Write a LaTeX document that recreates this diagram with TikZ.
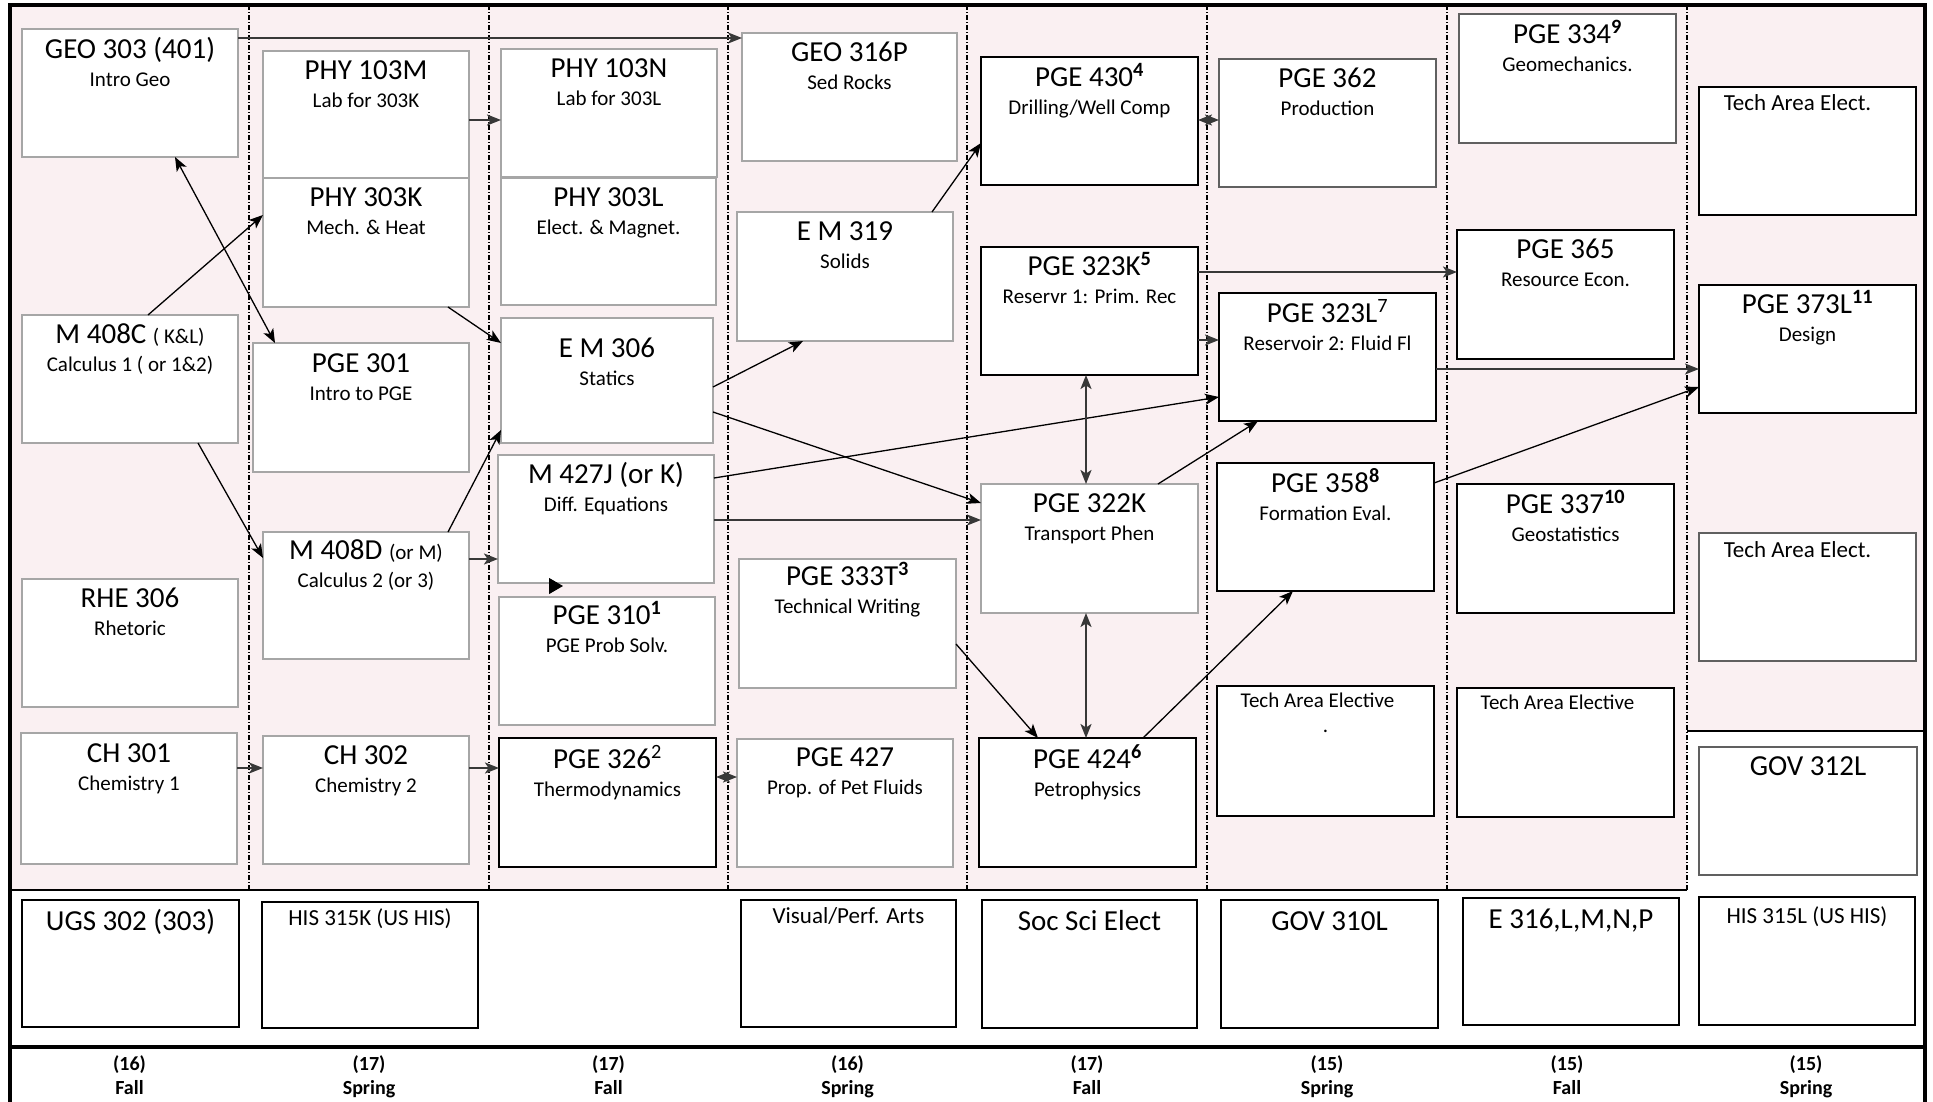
\documentclass[tikz,border=0pt]{standalone}
\usepackage{fontspec}
\setmainfont{Carlito}
\usetikzlibrary{arrows.meta}
\definecolor{pinkbg}{RGB}{250,240,242}
\definecolor{boxgray}{RGB}{166,166,166}
\definecolor{boxdark}{RGB}{96,96,96}
\definecolor{lnk}{RGB}{56,56,56}
\tikzset{
 gbox/.style={draw=boxgray, line width=1.5pt, fill=white, inner sep=0pt, outer sep=0pt},
 kbox/.style={draw=black, line width=2.5pt, fill=white, inner sep=0pt, outer sep=0pt},
 dbox/.style={draw=boxdark, line width=2.2pt, fill=white, inner sep=0pt, outer sep=0pt},
 ttl/.style={anchor=base, inner sep=0pt, font=\fontsize{29}{32}\selectfont},
 sub/.style={anchor=base, inner sep=0pt, font=\fontsize{21}{24}\selectfont},
 mid/.style={anchor=base, inner sep=0pt, font=\fontsize{23}{26}\selectfont},
 sem/.style={anchor=base, inner sep=0pt, font=\bfseries\fontsize{20}{23}\selectfont},
 colsep/.style={line width=1.1pt, dash pattern=on 5pt off 2pt on 1pt off 2pt},
 lnktip/.style={-{Stealth[length=14pt,width=11pt,inset=3.5pt]}},
 conn/.style={lnktip, line width=1.3pt, draw=black},
 connk/.style={lnktip, line width=2pt, draw=lnk},
 both/.style={{Stealth[length=14pt,width=11pt,inset=3.5pt]}-{Stealth[length=14pt,width=11pt,inset=3.5pt]}, line width=2pt, draw=lnk},
}
% name, style, x1, y1, x2, y2, title, subtitle, title offset
\newcommand\course[9]{%
  \node[#2, minimum width={#5-#3}, minimum height={#6-#4}] (#1) at ({(#3+#5)/2},{(#4+#6)/2}) {};
  \node[ttl] (#1-t) at ([yshift={-#9pt}]#1.north) {#7};
  \node[sub] (#1-s) at ([yshift={-#9pt-28pt}]#1.north) {#8};}
% name, style, x1, y1, x2, y2, text style, offset, text
\newcommand\onebox[9]{%
  \node[#2, minimum width={#5-#3}, minimum height={#6-#4}] (#1) at ({(#3+#5)/2},{(#4+#6)/2}) {};
  \node[#7] (#1-t) at ([yshift={-#8pt}]#1.north) {#9};}
\begin{document}
\begin{tikzpicture}[x=1pt, y=-1pt]
\useasboundingbox (0,0) rectangle (1933,1101);
% background
\fill[pinkbg] (10,5) rectangle (1687,890);
\fill[pinkbg] (1687,5) rectangle (1925,731);
\foreach \x in {249,489,728,967,1207,1447,1687} \draw[colsep] (\x,5) -- (\x,890);
\draw[line width=1.2pt] (10,890) -- (1687,890);
\draw[line width=2pt] (1687,731) -- (1925,731);
\draw[line width=4pt] (10,1047) -- (1925,1047);
\draw[line width=4pt] (10,1105) -- (10,5) -- (1925,5) -- (1925,1105);

% column 1
\course{geo303}{gbox}{22}{29}{238}{157}{GEO 303 (401)}{Intro Geo}{29}
\course{m408c}{gbox}{22}{315}{238}{443}{M 408C {\fontsize{21}{24}\selectfont ( K\&L)}}{Calculus 1 ( or 1\&2)}{28}
\course{rhe306}{gbox}{22}{579}{238}{707}{RHE 306}{Rhetoric}{28}
\course{ch301}{gbox}{21}{733}{237}{864}{CH 301}{Chemistry 1}{29}
% column 2
\course{phy103m}{gbox}{263}{51}{469}{178}{PHY 103M}{Lab for 303K}{28}
\course{phy303k}{gbox}{263}{178}{469}{307}{PHY 303K}{Mech. \& Heat}{28}
\course{pge301}{gbox}{253}{343}{469}{472}{PGE 301}{Intro to PGE}{29}
\course{m408d}{gbox}{263}{532}{469}{659}{M 408D {\fontsize{21}{24}\selectfont (or M)}}{Calculus 2 (or 3)}{27}
\course{ch302}{gbox}{263}{736}{469}{864}{CH 302}{Chemistry 2}{28}
% column 3
\course{phy103n}{gbox}{501}{49}{717}{177}{PHY 103N}{Lab for 303L}{28}
\course{phy303l}{gbox}{501}{178}{716}{305}{PHY 303L}{Elect. \& Magnet.}{28}
\course{em306}{gbox}{501}{318}{713}{443}{E M 306}{Statics}{39}
\course{m427j}{gbox}{498}{455}{714}{583}{M 427J (or K)}{Diff. Equations}{28}
\course{pge310}{gbox}{499}{597}{715}{725}{PGE 310\textsuperscript{\textbf{1}}}{PGE Prob Solv.}{27}
\course{pge326}{kbox}{499}{738}{716}{867}{PGE 326\textsuperscript{2}}{Thermodynamics}{30}
% column 4
\course{geo316p}{gbox}{742}{33}{957}{161}{GEO 316P}{Sed Rocks}{28}
\course{em319}{gbox}{737}{212}{953}{341}{E M 319}{Solids}{28}
\course{pge333t}{gbox}{739}{559}{956}{688}{PGE 333T\textsuperscript{\textbf{3}}}{Technical Writing}{26}
\course{pge427}{gbox}{737}{739}{953}{867}{PGE 427}{Prop. of Pet Fluids}{27}
% column 5
\course{pge430}{kbox}{981}{57}{1198}{185}{PGE 430\textsuperscript{\textbf{4}}}{Drilling/Well Comp}{29}
\course{pge323k}{kbox}{981}{247}{1198}{375}{PGE 323K\textsuperscript{\textbf{5}}}{Reservr 1: Prim. Rec}{28}
\course{pge322k}{gbox}{981}{484}{1198}{613}{PGE 322K}{Transport Phen}{28}
\course{pge424}{kbox}{979}{738}{1196}{867}{PGE 424\textsuperscript{\textbf{6}}}{Petrophysics}{30}
% column 6
\course{pge362}{dbox}{1219}{59}{1436}{187}{PGE 362}{Production}{28}
\course{pge323l}{kbox}{1219}{293}{1436}{421}{PGE 323L\textsuperscript{7}}{Reservoir 2: Fluid Fl}{29}
\course{pge358}{kbox}{1217}{463}{1434}{591}{PGE 358\textsuperscript{\textbf{8}}}{Formation Eval.}{29}
\onebox{tae6}{kbox}{1217}{686}{1434}{816}{sub,xshift=-8pt}{21}{Tech Area Elective}
\node[sub] (tae6-dot) at ([yshift=-46pt]tae6.north) {.};
% column 7
\course{pge334}{dbox}{1459}{14}{1676}{143}{PGE 334\textsuperscript{\textbf{9}}}{Geomechanics.}{29}
\course{pge365}{kbox}{1457}{230}{1674}{359}{PGE 365}{Resource Econ.}{28}
\course{pge337}{kbox}{1457}{484}{1674}{613}{PGE 337\textsuperscript{\textbf{10}}}{Geostatistics}{29}
\onebox{tae7}{kbox}{1457}{688}{1674}{817}{sub,xshift=-8pt}{21}{Tech Area Elective}
% column 8
\onebox{tae8a}{kbox}{1699}{87}{1916}{215}{mid,xshift=-10pt}{23}{Tech Area Elect.}
\course{pge373l}{kbox}{1699}{285}{1916}{413}{PGE 373L\textsuperscript{\textbf{11}}}{Design}{28}
\onebox{tae8b}{dbox}{1699}{533}{1916}{661}{mid,xshift=-10pt}{24}{Tech Area Elect.}
\onebox{gov312l}{dbox}{1699}{747}{1917}{875}{ttl}{28}{GOV 312L}
% bottom row
\onebox{ugs302}{kbox}{22}{900}{239}{1027}{ttl}{30}{UGS 302 (303)}
\onebox{his315k}{kbox}{262}{902}{478}{1028}{mid}{23}{HIS 315K (US HIS)}
\onebox{visarts}{kbox}{741}{900}{956}{1027}{mid}{23}{Visual/Perf. Arts}
\onebox{socsci}{kbox}{982}{900}{1197}{1028}{ttl}{30}{Soc Sci Elect}
\onebox{gov310l}{kbox}{1221}{900}{1438}{1028}{ttl}{30}{GOV 310L}
\onebox{e316}{kbox}{1463}{898}{1679}{1025}{ttl}{30}{E 316,L,M,N,P}
\onebox{his315l}{kbox}{1699}{897}{1915}{1025}{mid}{26}{HIS 315L (US HIS)}

% semester labels
\node[sem] (n1) at (129.5,1070) {(16)};  \node[sem] (t1) at (129.5,1094) {Fall};
\node[sem] (n2) at (369,1070) {(17)};    \node[sem] (t2) at (369,1094) {Spring};
\node[sem] (n3) at (608.5,1070) {(17)};  \node[sem] (t3) at (608.5,1094) {Fall};
\node[sem] (n4) at (847.5,1070) {(16)};  \node[sem] (t4) at (847.5,1094) {Spring};
\node[sem] (n5) at (1087,1070) {(17)};   \node[sem] (t5) at (1087,1094) {Fall};
\node[sem] (n6) at (1327,1070) {(15)};   \node[sem] (t6) at (1327,1094) {Spring};
\node[sem] (n7) at (1567,1070) {(15)};   \node[sem] (t7) at (1567,1094) {Fall};
\node[sem] (n8) at (1806,1070) {(15)};   \node[sem] (t8) at (1806,1094) {Spring};

% connectors
\draw[connk] ([yshift=-9pt]geo303.north east) -- ([yshift=-5pt]geo316p.north west);
\draw[connk] ([yshift=-69pt]phy103m.north east) -- ([yshift=-71pt]phy103n.north west);
\draw[conn] ([xshift=82pt]phy303k.south) -- ([yshift=-25pt]em306.north west);
\draw[conn] ([xshift=18pt]m408c.north) -- ([yshift=-37pt]phy303k.north west);
\draw[both, line width=1.3pt, draw=black] ([xshift=45pt]geo303.south) -- ([xshift=-86pt]pge301.north);
\draw[conn] ([xshift=68pt]m408c.south) -- ([yshift=-26pt]m408d.north west);
\draw[conn] ([xshift=82pt]m408d.north) -- ([yshift=-112pt]em306.north west);
\draw[connk] ([yshift=-27pt]m408d.north east) -- ([yshift=-104pt]m427j.north west);
\draw[connk] ([yshift=-35pt]ch301.north east) -- ([yshift=-32pt]ch302.north west);
\draw[connk] ([yshift=-32pt]ch302.north east) -- ([yshift=-30pt]pge326.north west);
\draw[both] ([yshift=-38pt]pge427.north west) -- ([yshift=-39pt]pge326.north east);
\draw[conn] ([yshift=-69pt]em306.north east) -- ([xshift=-42pt]em319.south);
\draw[conn] ([xshift=87pt]em319.north) -- ([yshift=-86pt]pge430.north west);
\draw[conn] ([yshift=-94pt]em306.north east) -- ([yshift=-19pt]pge322k.north west);
\draw[conn] ([yshift=-23pt]m427j.north east) -- ([yshift=-104pt]pge323l.north west);
\draw[connk] ([yshift=-65pt]m427j.north east) -- ([yshift=-36pt]pge322k.north west);
\draw[conn] ([yshift=-85pt]pge333t.north east) -- ([xshift=-49.5pt]pge424.north);
\draw[both] ([xshift=-3.5pt]pge323k.south) -- ([xshift=-3.5pt]pge322k.north);
\draw[both] ([xshift=-3.5pt]pge322k.south) -- ([xshift=-1.5pt]pge424.north);
\draw[both] ([yshift=-63pt]pge430.north east) -- ([yshift=-61pt]pge362.north west);
\draw[connk] ([yshift=-25pt]pge323k.north east) -- ([yshift=-42pt]pge365.north west);
\draw[connk] ([yshift=-93pt]pge323k.north east) -- ([yshift=-47pt]pge323l.north west);
\draw[conn] ([xshift=68.5pt]pge322k.north) -- ([xshift=-69.5pt]pge323l.south);
\draw[conn] ([xshift=55.5pt]pge424.north) -- ([xshift=-32.5pt]pge358.south);
\draw[connk] ([yshift=-76pt]pge323l.north east) -- ([yshift=-84pt]pge373l.north west);
\draw[conn] ([yshift=-20pt]pge358.north east) -- ([yshift=-102pt]pge373l.north west);
\draw[line width=1pt, -{Triangle[length=14pt,width=16pt]}] ([shift={(-57pt,-3pt)}]m427j.south) -- ([shift={(-44pt,11pt)}]pge310.north);
\end{tikzpicture}
\end{document}
